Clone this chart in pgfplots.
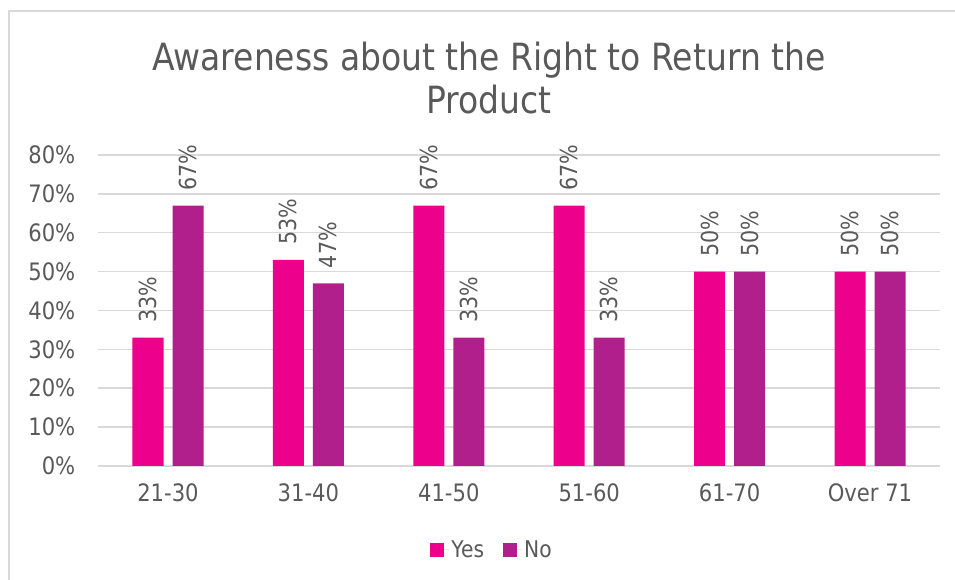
\documentclass[border=0pt]{standalone}
\usepackage{pgfplots}
\pgfplotsset{compat=1.18}
\usepackage{fontspec}
\setmainfont{DejaVu Sans}[FakeStretch=0.88]
\definecolor{yescol}{RGB}{236,0,140}
\definecolor{nocol}{RGB}{177,31,141}
\definecolor{gridgray}{RGB}{217,217,217}
\definecolor{textgray}{RGB}{89,89,89}
\begin{document}
\begin{tikzpicture}
\path[use as bounding box] (0,0) rectangle (955pt,580pt);
\draw[gridgray, line width=2pt] (8.5pt,0) -- (8.5pt,569pt) -- (955pt,569pt);
\node[text=textgray, align=center, font=\fontsize{37.5}{43}\selectfont] at (489pt,502pt) {Awareness about the Right to Return the\\Product};
\begin{axis}[
  at={(97.8pt,114pt)}, anchor=south west,
  scale only axis, width=842.4pt, height=311pt,
  ymin=0, ymax=80, ytick={0,10,...,80},
  xmin=-0.5, xmax=5.5, xtick={0,...,5},
  xticklabels={21-30,31-40,41-50,51-60,61-70,Over 71},
  yticklabel={\pgfmathprintnumber{\tick}\%},
  /pgf/number format/assume math mode=true,
  axis line style={draw=none},
  major tick length=0pt,
  ymajorgrids, grid style={gridgray, line width=1.5pt},
  tick label style={text=textgray, font=\fontsize{24}{28}\selectfont},
  xticklabel style={yshift=-14pt},
  yticklabel style={xshift=-19pt},
  ybar, bar width=31pt,
  clip=false,
  nodes near coords={\pgfmathprintnumber{\pgfplotspointmeta}\%},
  every node near coord/.append style={rotate=90, anchor=west, text=textgray, font=\fontsize{23.5}{28}\selectfont, inner xsep=15pt, inner ysep=2pt},
  legend style={at={(0.468,-0.27)}, anchor=center, draw=none, legend columns=2, font=\fontsize{23}{28}\selectfont, text=textgray, /tikz/every even column/.append style={column sep=17pt}},
  legend image code/.code={\path (0pt,0pt) -- (19pt,0pt); \fill[#1] (0pt,-7pt) rectangle (14pt,7pt);},
]
\addplot[fill=yescol, draw=none, bar shift=-20pt] coordinates {(0,33) (1,53) (2,67) (3,67) (4,50) (5,50)};
\addplot[fill=nocol, draw=none, bar shift=20pt] coordinates {(0,67) (1,47) (2,33) (3,33) (4,50) (5,50)};
\legend{Yes,No}
\end{axis}
\end{tikzpicture}
\end{document}
